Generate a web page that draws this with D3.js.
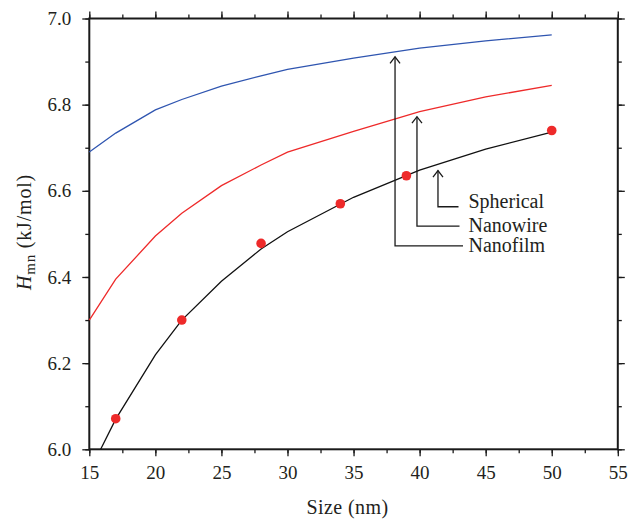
<!DOCTYPE html>
<html>
<head>
<meta charset="utf-8">
<script src="https://cdn.jsdelivr.net/npm/d3@7"></script>
<style>
  html, body { margin: 0; padding: 0; background: #fff; }
  svg { display: block; }
  svg text { font-family: "Liberation Serif", "Times New Roman", "DejaVu Serif", serif !important; fill: #231f20; }
</style>
</head>
<body>
<svg id="chart" width="639" height="522"></svg>
<script>
// Size in nm
const sizes = [15, 17, 20, 22, 25, 28, 30, 35, 40, 45, 50];
// Melting enthalpy H_mn (kJ/mol) for each shape
const spherical = [6.690, 6.734, 6.788, 6.812, 6.843, 6.867, 6.882, 6.908, 6.931, 6.948, 6.962];
const nanowire  = [6.300, 6.395, 6.495, 6.548, 6.612, 6.660, 6.690, 6.738, 6.784, 6.818, 6.845];
const filmSizes = [15.86, 17, 20, 22, 25, 28, 30, 35, 40, 45, 50];
const nanofilm  = [6.000, 6.070, 6.219, 6.300, 6.390, 6.465, 6.505, 6.585, 6.648, 6.697, 6.736];
// Experimental points
const expSizes  = [17, 22, 28, 34, 39, 50];
const expValues = [6.071, 6.300, 6.478, 6.570, 6.635, 6.740];

const xTicks = [15, 20, 25, 30, 35, 40, 45, 50, 55];
const yTicks = [6.0, 6.2, 6.4, 6.6, 6.8, 7.0];
const shapeLabels = ["Spherical", "Nanowire", "Nanofilm"];
const arrowSizes = [41.39, 39.80, 38.14];     // where each pointer stands on the size axis
const arrowTips  = [6.647, 6.772, 6.911];     // value each pointer reaches up to
const arrowElbows = [6.563, 6.518, 6.472];    // value where each pointer turns to its label

const serif = '"Liberation Serif", "Times New Roman", "DejaVu Serif", serif';
const svg = d3.select("#chart").attr("font-family", serif);
const mLeft = 89.3, mRight = 617.8, mTop = 18.5, mBottom = 449.3;

const x = d3.scaleLinear().domain([15, 55]).range([mLeft, mRight]);
const y = d3.scaleLinear().domain([6.0, 7.0]).range([mBottom, mTop]);

const axisColor = "#1a1a1a";
const tickFont = 19;

// Minor ticks
const xMinor = d3.range(15, 55.01, 2.5);
const yMinor = d3.range(6.0, 7.001, 0.1);

function styleAxis(g) {
  g.attr("font-family", serif);
  g.select(".domain").remove();
  g.selectAll("line").attr("stroke", axisColor).attr("stroke-width", 1.3);
  g.selectAll("text").attr("font-size", tickFont).attr("font-family", serif).attr("fill", "#231f20");
}

// Bottom axis
svg.append("g").attr("transform", `translate(0,${mBottom})`)
  .call(d3.axisBottom(x).tickValues(xMinor).tickSize(4).tickFormat(""))
  .call(styleAxis);
svg.append("g").attr("transform", `translate(0,${mBottom})`)
  .call(d3.axisBottom(x).tickValues(xTicks).tickSize(7).tickPadding(9.5).tickFormat(d3.format("d")))
  .call(styleAxis);

// Top axis
svg.append("g").attr("transform", `translate(0,${mTop})`)
  .call(d3.axisTop(x).tickValues(xMinor).tickSize(4).tickFormat(""))
  .call(styleAxis);
svg.append("g").attr("transform", `translate(0,${mTop})`)
  .call(d3.axisTop(x).tickValues(xTicks).tickSize(7).tickFormat(""))
  .call(styleAxis);

// Left axis
svg.append("g").attr("transform", `translate(${mLeft},0)`)
  .call(d3.axisLeft(y).tickValues(yMinor).tickSize(4).tickFormat(""))
  .call(styleAxis);
svg.append("g").attr("transform", `translate(${mLeft},0)`)
  .call(d3.axisLeft(y).tickValues(yTicks).tickSize(7).tickPadding(11).tickFormat(d3.format(".1f")))
  .call(styleAxis);

// Right axis
svg.append("g").attr("transform", `translate(${mRight},0)`)
  .call(d3.axisRight(y).tickValues(yMinor).tickSize(4).tickFormat(""))
  .call(styleAxis);
svg.append("g").attr("transform", `translate(${mRight},0)`)
  .call(d3.axisRight(y).tickValues(yTicks).tickSize(7).tickFormat(""))
  .call(styleAxis);

// Frame
svg.append("rect")
  .attr("x", mLeft).attr("y", mTop)
  .attr("width", mRight - mLeft).attr("height", mBottom - mTop)
  .attr("fill", "none").attr("stroke", axisColor).attr("stroke-width", 2)
  .attr("stroke-linejoin", "miter");

// Curves
const line = d3.line().x(d => x(d[0])).y(d => y(d[1]));
const curves = [
  { xs: sizes, ys: spherical, color: "#2f55b0" },
  { xs: sizes, ys: nanowire, color: "#ee2a2a" },
  { xs: filmSizes, ys: nanofilm, color: "#111111" }
];
curves.forEach(c => {
  svg.append("path")
    .datum(c.xs.map((s, i) => [s, c.ys[i]]))
    .attr("d", line)
    .attr("fill", "none")
    .attr("stroke", c.color)
    .attr("stroke-width", 1.3);
});

// Experimental points
svg.append("g").selectAll("circle")
  .data(expSizes.map((s, i) => [s, expValues[i]]))
  .join("circle")
  .attr("cx", d => x(d[0]))
  .attr("cy", d => y(d[1]))
  .attr("r", 4.8)
  .attr("fill", "#ee2a2a");

// Pointers from labels to curves
const labelStart = 468.5;
const lineEnds = [458.5, 459.5, 463];
const textShift = [1.5, 5.5, 6.3];
const ann = svg.append("g");
shapeLabels.forEach((name, i) => {
  const ax = x(arrowSizes[i]);
  const tipY = y(arrowTips[i]);
  const elbowY = y(arrowElbows[i]);
  ann.append("path")
    .attr("d", `M${ax},${tipY} L${ax},${elbowY} L${lineEnds[i]},${elbowY}`)
    .attr("fill", "none").attr("stroke", "#1a1a1a").attr("stroke-width", 1.3);
  ann.append("path")
    .attr("d", `M${ax - 5},${tipY + 6.5} L${ax},${tipY} L${ax + 5},${tipY + 6.5}`)
    .attr("fill", "none").attr("stroke", "#1a1a1a").attr("stroke-width", 1.3);
  ann.append("text")
    .attr("x", labelStart)
    .attr("y", elbowY + textShift[i])
    .attr("font-size", 20)
    .text(name);
});

// Axis titles
svg.append("text")
  .attr("x", 347.5)
  .attr("y", 514)
  .attr("text-anchor", "middle")
  .attr("font-size", 20)
  .attr("letter-spacing", 0.4)
  .text("Size (nm)");

const yTitle = svg.append("text")
  .attr("transform", `translate(31,232) rotate(-90)`)
  .attr("text-anchor", "middle")
  .attr("font-size", 20)
  .attr("letter-spacing", 0.8);
yTitle.append("tspan").attr("font-style", "italic").text("H");
yTitle.append("tspan").attr("font-size", 15).attr("dy", 4).text("mn");
yTitle.append("tspan").attr("dy", -4).text(" (kJ/mol)");
</script>
</body>
</html>
